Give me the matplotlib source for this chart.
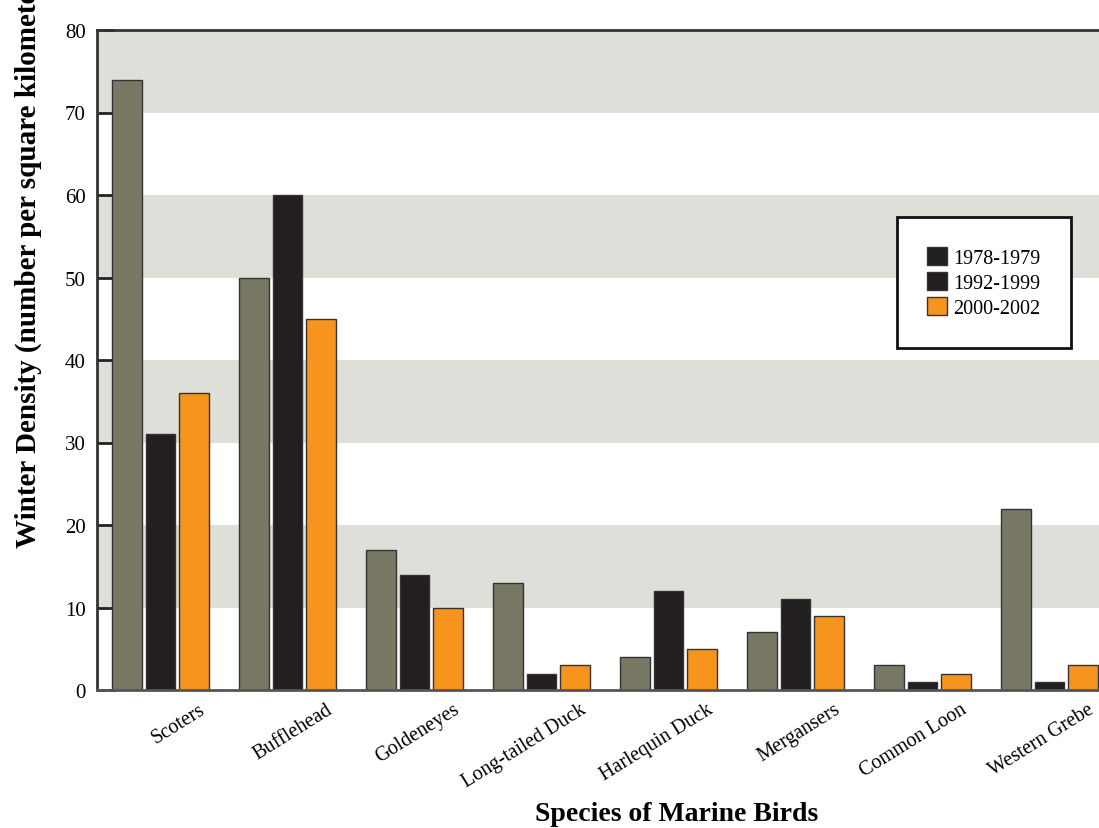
import numpy as np
import matplotlib.pyplot as plt
import matplotlib.transforms as mtrans
from matplotlib.patches import Patch

# data
species = ['Scoters', 'Bufflehead', 'Goldeneyes', 'Long-tailed Duck',
           'Harlequin Duck', 'Mergansers', 'Common Loon', 'Western Grebe']
d_1978 = [74, 50, 17, 13, 4, 7, 3, 22]
d_1992 = [31, 60, 14, 2, 12, 11, 1, 1]
d_2000 = [36, 45, 10, 3, 5, 9, 2, 3]
periods = ['1978-1979', '1992-1999', '2000-2002']
yticks = [0, 10, 20, 30, 40, 50, 60, 70, 80]

c_grey = '#797864'
c_black = '#231f20'
c_orange = '#f7941e'
c_band = '#dfdfd9'

plt.rcParams['font.family'] = 'Liberation Serif'

fig = plt.figure(figsize=(10.99, 8.29), dpi=100)
ax = fig.add_axes([97/1099, 138/829, 1016/1099, 660/829])

# alternating grey bands
for lo in range(10, 80, 20):
    ax.axhspan(lo, lo + 10, color=c_band, lw=0, zorder=0)

x = np.arange(len(species))
w = 0.236
off = 0.265
ax.bar(x - off, d_1978, w, color=c_grey, edgecolor='#333333', lw=1, zorder=2)
ax.bar(x, d_1992, w, color=c_black, edgecolor='#333333', lw=1, zorder=2)
ax.bar(x + off, d_2000, w, color=c_orange, edgecolor='#333333', lw=1, zorder=2)

ax.set_xlim(-0.5, 7.5)
ax.set_ylim(0, 80)
ax.set_yticks(yticks)
ax.tick_params(axis='y', direction='in', length=13, width=2, color='#222222',
               labelsize=15, pad=8)
ax.set_xticks(x)
ax.set_xticklabels(species, rotation=32, ha='right', va='top',
                   rotation_mode='anchor', fontsize=14.5)
ax.tick_params(axis='x', length=0, pad=7)
shift = mtrans.ScaledTranslation(38/100, 0, fig.dpi_scale_trans)
for lab in ax.get_xticklabels():
    lab.set_transform(lab.get_transform() + shift)

for s in ['left', 'top']:
    ax.spines[s].set_linewidth(2)
    ax.spines[s].set_color('#333333')
ax.spines['bottom'].set_linewidth(2)
ax.spines['bottom'].set_color('#555555')
ax.spines['right'].set_visible(False)

# legend (first swatch is black in the source chart)
handles = [Patch(facecolor=c_black, edgecolor='#333333'),
           Patch(facecolor=c_black, edgecolor='#333333'),
           Patch(facecolor=c_orange, edgecolor='#333333')]
leg = ax.legend(handles, periods, loc='upper left',
                bbox_to_anchor=(897/1099, 1 - 218/829), bbox_transform=fig.transFigure,
                fontsize=14.5, frameon=True, fancybox=False, handlelength=1.0,
                handleheight=1.0, handletextpad=0.3, labelspacing=0.2,
                borderpad=1.5, borderaxespad=0)
leg.get_frame().set_edgecolor('#111111')
leg.get_frame().set_linewidth(2)
leg.get_frame().set_alpha(1)

# the source figure crops this label at its top edge
fig.text(28/1099, 1 - 548/829, 'Winter Density (number per square kilometer)',
         rotation=90, ha='center', va='bottom', fontsize=21, fontweight='bold')
fig.text(677/1099, 1 - 815/829, 'Species of Marine Birds',
         ha='center', va='center', fontsize=20, fontweight='bold')

fig.savefig('out.png', dpi=100)
